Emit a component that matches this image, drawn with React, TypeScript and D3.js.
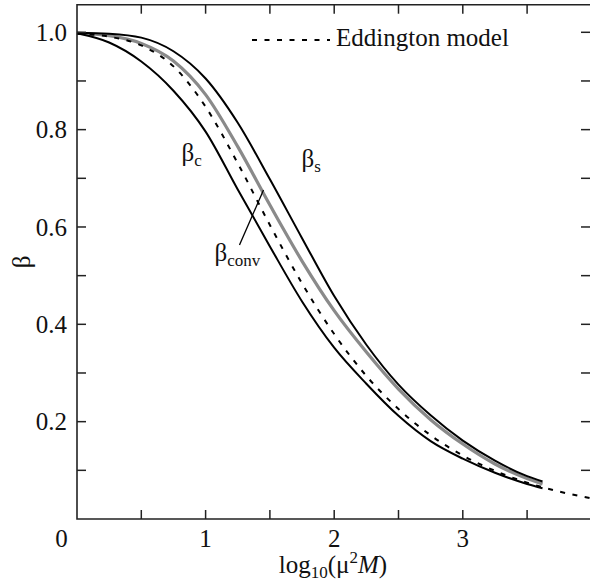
import React from "react";
import * as d3 from "d3";

// x: log10(mu^2 M)
const logMass = [0, 0.25, 0.5, 0.75, 1, 1.25, 1.5, 1.75, 2, 2.25, 2.5, 2.75, 3, 3.25, 3.5, 3.62];
const betaC = [0.998, 0.979, 0.94, 0.88, 0.796, 0.677, 0.56, 0.447, 0.352, 0.278, 0.212, 0.16, 0.124, 0.095, 0.072, 0.063];
const betaConv = [0.998, 0.993, 0.977, 0.941, 0.872, 0.765, 0.645, 0.53, 0.428, 0.343, 0.267, 0.204, 0.154, 0.113, 0.083, 0.072];
const betaS = [0.999, 0.997, 0.989, 0.961, 0.905, 0.814, 0.698, 0.577, 0.458, 0.358, 0.276, 0.213, 0.161, 0.12, 0.088, 0.077];

const eddLog = [0, 0.25, 0.5, 0.75, 1, 1.25, 1.5, 1.75, 2, 2.25, 2.5, 2.75, 3, 3.25, 3.5, 3.75, 4];
const eddBeta = [0.997, 0.991, 0.973, 0.93, 0.847, 0.731, 0.604, 0.484, 0.38, 0.294, 0.226, 0.172, 0.1305, 0.099, 0.0747, 0.0563, 0.0424];

const xTickLabels = [1, 2, 3];
const xMinorTicks = [0.5, 1, 1.5, 2, 2.5, 3, 3.5];
const yTickLabels = [0.2, 0.4, 0.6, 0.8, 1.0];
const yMinorTicks = [0.1, 0.2, 0.3, 0.4, 0.5, 0.6, 0.7, 0.8, 0.9, 1.0];

const W = 590;
const H = 587;
const FONT = "Liberation Serif, Times New Roman, DejaVu Serif, serif";
const ts = { fontFamily: FONT };

export default function App() {
  const x = d3.scaleLinear().domain([0, 4]).range([77, 591.4]);
  const y = d3.scaleLinear().domain([0, 1.0567]).range([519, 4.7]);

  const mk = (xs: number[], ys: number[]) =>
    d3
      .line<number>()
      .x((_, i) => x(xs[i]))
      .y((v) => y(v))
      .curve(d3.curveMonotoneX)(ys) as string;

  const left = x(0);
  const right = x(4);
  const top = y(1.0567);
  const bottom = y(0);
  const tl = 9;
  const axisColor = "#222";

  return (
    <svg
      width={W}
      height={H}
      style={{ position: "absolute", left: 0, top: 0, background: "#fff", fontFamily: FONT }}
    >
      <rect x={0} y={0} width={W} height={H} fill="#fff" />
      {/* curves */}
      <path d={mk(logMass, betaConv)} fill="none" stroke="#8a8a8a" strokeWidth={3.2} />
      <path d={mk(logMass, betaC)} fill="none" stroke="#000" strokeWidth={2} />
      <path d={mk(logMass, betaS)} fill="none" stroke="#000" strokeWidth={2} />
      <path d={mk(eddLog, eddBeta)} fill="none" stroke="#000" strokeWidth={2} strokeDasharray="5 7.5" />

      {/* frame */}
      <path
        d={`M${right},${top}H${left}V${bottom}H${right}`}
        fill="none"
        stroke={axisColor}
        strokeWidth={1.6}
      />
      {/* x ticks */}
      {xMinorTicks.map((t) => (
        <g key={"xt" + t}>
          <line x1={x(t)} x2={x(t)} y1={bottom} y2={bottom - tl} stroke={axisColor} strokeWidth={1.5} />
          <line x1={x(t)} x2={x(t)} y1={top} y2={top + tl} stroke={axisColor} strokeWidth={1.5} />
        </g>
      ))}
      {/* y ticks */}
      {yMinorTicks.map((t) => (
        <g key={"yt" + t}>
          <line x1={left} x2={left + tl} y1={y(t)} y2={y(t)} stroke={axisColor} strokeWidth={1.5} />
          <line x1={W - tl} x2={W} y1={y(t)} y2={y(t)} stroke={axisColor} strokeWidth={1.5} />
        </g>
      ))}
      {/* labels */}
      {xTickLabels.map((t) => (
        <text key={"xl" + t} x={x(t)} y={547} fontSize={25} textAnchor="middle" fill="#111" style={ts}>
          {t}
        </text>
      ))}
      <text x={61.5} y={547} fontSize={25} textAnchor="middle" fill="#111" style={ts}>
        0
      </text>
      {yTickLabels.map((t) => (
        <text key={"yl" + t} x={67} y={y(t) + 8.8} fontSize={25} textAnchor="end" fill="#111" style={ts}>
          {d3.format(".1f")(t)}
        </text>
      ))}

      {/* axis titles */}
      <text x={333} y={573} fontSize={25} textAnchor="middle" fill="#111" style={ts}>
        log
        <tspan fontSize={17} dy={5}>10</tspan>
        <tspan dy={-5}>(μ</tspan>
        <tspan fontSize={17} dy={-10}>2</tspan>
        <tspan dy={10} fontStyle="italic">M</tspan>
        <tspan>)</tspan>
      </text>
      <text transform="translate(30,262) rotate(-90)" fontSize={25} textAnchor="middle" fill="#111" style={ts}>
        β
      </text>

      {/* curve labels */}
      <text x={181.5} y={161} fontSize={25} fill="#111" style={ts}>
        β<tspan fontSize={17} dy={5}>c</tspan>
      </text>
      <text x={301.5} y={167} fontSize={25} fill="#111" style={ts}>
        β<tspan fontSize={17} dy={5}>s</tspan>
      </text>
      <text x={214.5} y={261} fontSize={25} fill="#111" style={ts}>
        β<tspan fontSize={17} dy={5}>conv</tspan>
      </text>
      <line x1={239.5} y1={245} x2={263.5} y2={190} stroke="#000" strokeWidth={1.3} />

      {/* legend */}
      <line x1={252} x2={330} y1={40} y2={40} stroke="#000" strokeWidth={2} strokeDasharray="5 7.5" />
      <text x={336} y={46} fontSize={25} fill="#111" style={ts}>
        Eddington model
      </text>
    </svg>
  );
}
